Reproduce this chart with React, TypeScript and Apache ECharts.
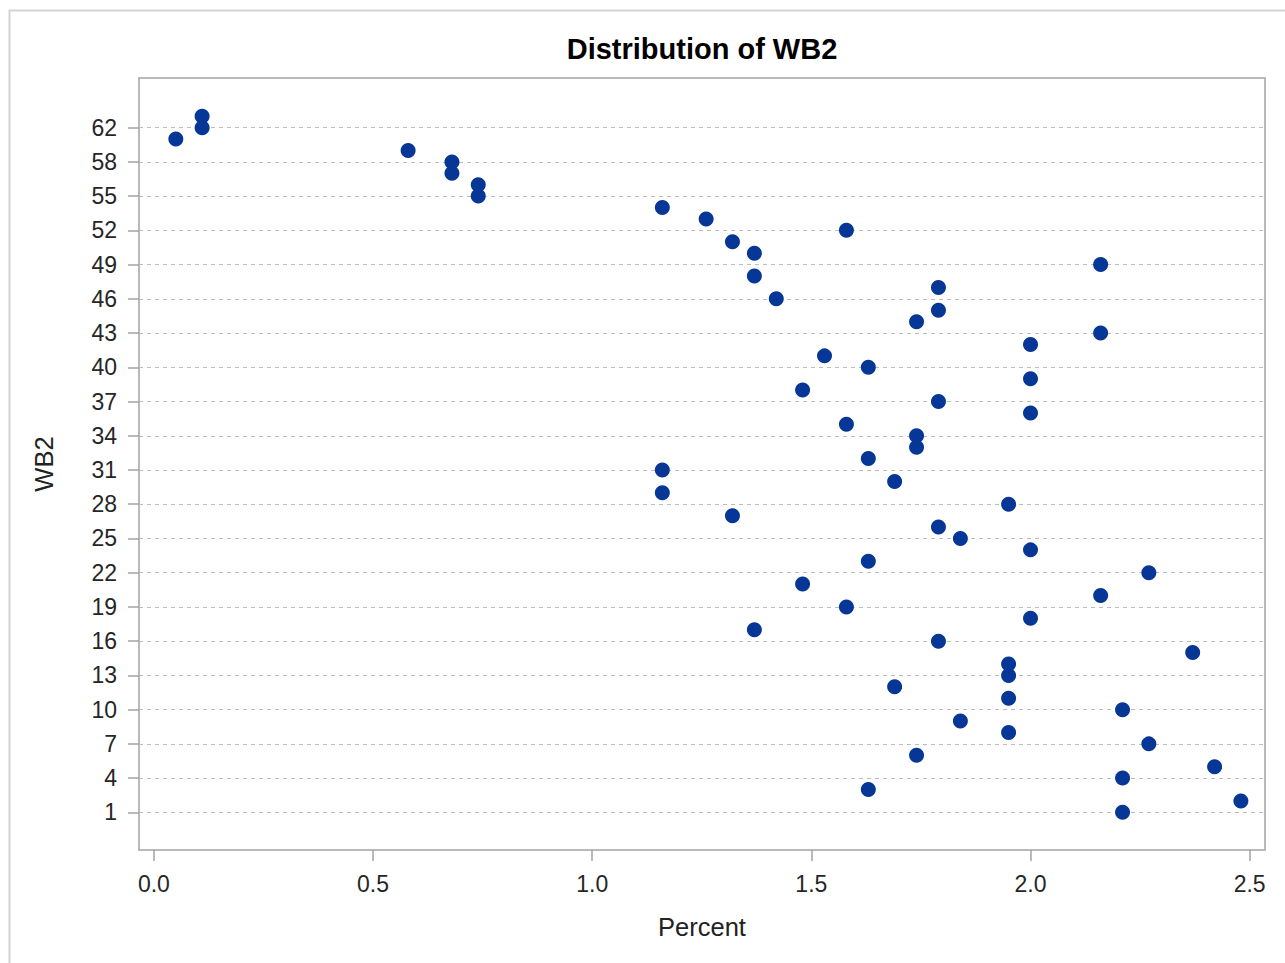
import React, { useEffect, useRef } from "react";
import * as echarts from "echarts";

// WB2 categories shown on the discrete y axis (bottom to top)
const wb2Categories: number[] = [
  1, 2, 3, 4, 5, 6, 7, 8, 9, 10, 11, 12, 13, 14, 15, 16, 17, 18, 19, 20,
  21, 22, 23, 24, 25, 26, 27, 28, 29, 30, 31, 32, 33, 34, 35, 36, 37, 38, 39, 40,
  41, 42, 43, 44, 45, 46, 47, 48, 49, 50, 51, 52, 53, 54, 55, 56, 57, 58, 59, 61,
  62, 63,
];

// Percent for each WB2 category (same order)
const percentValues: number[] = [
  2.21, 2.48, 1.63, 2.21, 2.42, 1.74, 2.27, 1.95, 1.84, 2.21,
  1.95, 1.69, 1.95, 1.95, 2.37, 1.79, 1.37, 2.0, 1.58, 2.16,
  1.48, 2.27, 1.63, 2.0, 1.84, 1.79, 1.32, 1.95, 1.16, 1.69,
  1.16, 1.63, 1.74, 1.74, 1.58, 2.0, 1.79, 1.48, 2.0, 1.63,
  1.53, 2.0, 2.16, 1.74, 1.79, 1.42, 1.79, 1.37, 2.16, 1.37,
  1.32, 1.58, 1.26, 1.16, 0.74, 0.74, 0.68, 0.68, 0.58, 0.05,
  0.11, 0.11,
];

// Tick labels on the y axis (category positions labelled)
const yTickLabels: number[] = [1, 4, 7, 10, 13, 16, 19, 22, 25, 28, 31, 34, 37, 40, 43, 46, 49, 52, 55, 58, 62];
// Tick labels on the x axis
const xTickValues: number[] = [0, 0.5, 1.0, 1.5, 2.0, 2.5];

const FONT = '"Liberation Sans", Arial, Helvetica, sans-serif';

export default function App() {
  const ref = useRef<HTMLDivElement>(null);

  useEffect(() => {
    if (!ref.current) return;
    const chart = echarts.init(ref.current, undefined, { renderer: "svg" });

    const data = wb2Categories.map((c, i) => [percentValues[i], i]);
    const yTickIdx = yTickLabels.map((v) => wb2Categories.indexOf(v));

    chart.setOption({
      animation: false,
      backgroundColor: "#ffffff",
      title: {
        text: "Distribution of WB2",
        left: 702,
        top: 34,
        padding: 0,
        textAlign: "center",
        textStyle: {
          fontFamily: FONT,
          fontSize: 29,
          fontWeight: "bold",
          color: "#000000",
        },
      },
      graphic: [
        {
          type: "rect",
          shape: { x: 9.5, y: 10.5, width: 1400, height: 1100 },
          style: { fill: "none", stroke: "#d4d4d4", lineWidth: 2 },
          silent: true,
          z: -10,
        },
      ],
      grid: {
        left: 139,
        right: 20,
        top: 78,
        bottom: 113,
        show: true,
        borderColor: "#a3a3a3",
        borderWidth: 1.5,
        backgroundColor: "transparent",
      },
      xAxis: {
        type: "value",
        min: -0.034,
        max: 2.535,
        name: "Percent",
        nameLocation: "middle",
        nameGap: 64,
        nameTextStyle: { fontFamily: FONT, fontSize: 25.5, color: "#222222" },
        axisLine: { show: false, onZero: false },
        axisTick: {
          show: true,
          length: 11,
          inside: false,
          customValues: xTickValues,
          lineStyle: { color: "#a3a3a3", width: 1.5 },
        },
        axisLabel: {
          customValues: xTickValues,
          margin: 22,
          fontFamily: FONT,
          fontSize: 23,
          color: "#262626",
          formatter: (v: number) => v.toFixed(1),
        },
        splitLine: { show: false },
      },
      yAxis: {
        type: "value",
        min: -3.3,
        max: 64.35,
        name: "WB2",
        nameLocation: "middle",
        nameGap: 82,
        nameRotate: 90,
        nameTextStyle: { fontFamily: FONT, fontSize: 25.5, color: "#222222" },
        axisLine: { show: false, onZero: false },
        axisTick: {
          show: true,
          length: 11,
          inside: false,
          customValues: yTickIdx,
          lineStyle: { color: "#a3a3a3", width: 1.5 },
        },
        axisLabel: {
          customValues: yTickIdx,
          margin: 22,
          fontFamily: FONT,
          fontSize: 23,
          color: "#262626",
          formatter: (v: number) => String(wb2Categories[Math.round(v)]),
        },
        splitLine: {
          show: true,
          lineStyle: { color: "#bcbcbc", width: 1, type: [4, 4] },
        },
      },
      series: [
        {
          type: "scatter",
          data,
          symbol: "circle",
          symbolSize: 15,
          itemStyle: { color: "#063797", opacity: 1 },
          emphasis: { disabled: true },
        },
      ],
    });

    return () => chart.dispose();
  }, []);

  return (
    <div
      ref={ref}
      style={{ position: "absolute", left: 0, top: 0, width: 1285, height: 963 }}
    />
  );
}
